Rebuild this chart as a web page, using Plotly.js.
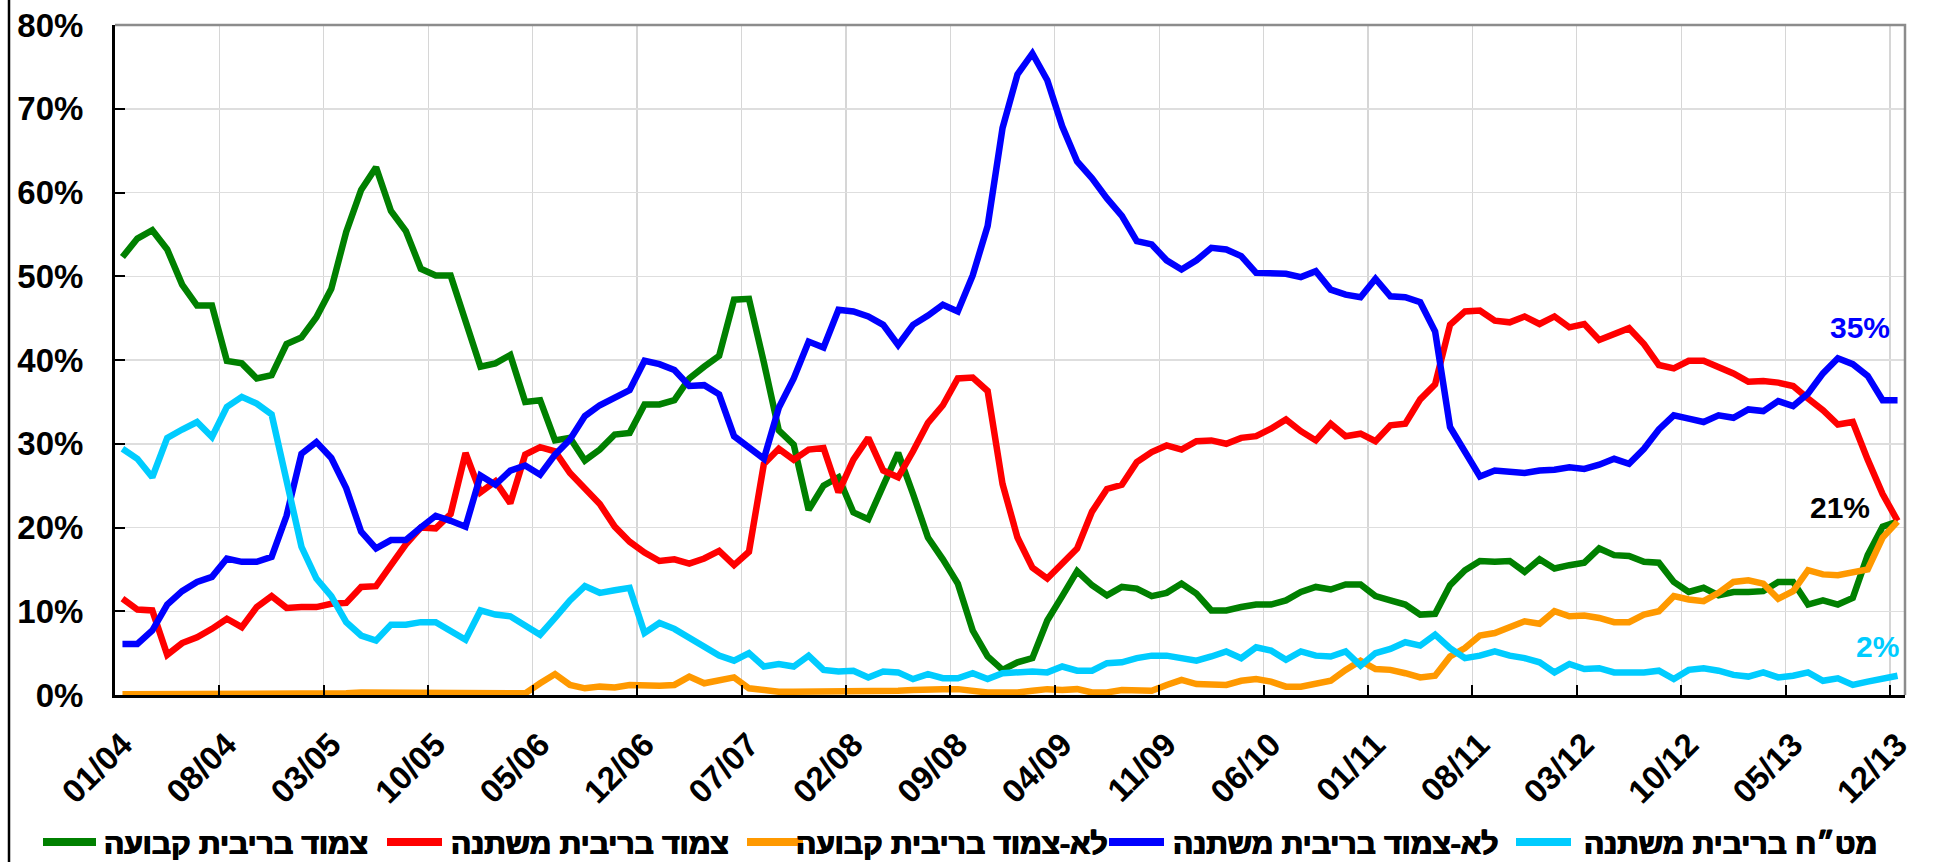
<!DOCTYPE html>
<html>
<head>
<meta charset="utf-8">
<script src="https://cdn.plot.ly/plotly-3.0.1.min.js"></script>
<style>
  html, body { margin: 0; padding: 0; background: #ffffff; }
  #chart { width: 1937px; height: 862px; }
</style>
</head>
<body>
<div id="chart"></div>
<script>
// ---- categories (month/year) ----
const months = [
  "01/04","02/04","03/04","04/04","05/04","06/04","07/04","08/04","09/04","10/04","11/04","12/04",
  "01/05","02/05","03/05","04/05","05/05","06/05","07/05","08/05","09/05","10/05","11/05","12/05",
  "01/06","02/06","03/06","04/06","05/06","06/06","07/06","08/06","09/06","10/06","11/06","12/06",
  "01/07","02/07","03/07","04/07","05/07","06/07","07/07","08/07","09/07","10/07","11/07","12/07",
  "01/08","02/08","03/08","04/08","05/08","06/08","07/08","08/08","09/08","10/08","11/08","12/08",
  "01/09","02/09","03/09","04/09","05/09","06/09","07/09","08/09","09/09","10/09","11/09","12/09",
  "01/10","02/10","03/10","04/10","05/10","06/10","07/10","08/10","09/10","10/10","11/10","12/10",
  "01/11","02/11","03/11","04/11","05/11","06/11","07/11","08/11","09/11","10/11","11/11","12/11",
  "01/12","02/12","03/12","04/12","05/12","06/12","07/12","08/12","09/12","10/12","11/12","12/12",
  "01/13","02/13","03/13","04/13","05/13","06/13","07/13","08/13","09/13","10/13","11/13","12/13"
];

// ---- series names ----
const nameGreen  = "צמוד בריבית קבועה";
const nameRed    = "צמוד בריבית משתנה";
const nameOrange = "לא-צמוד בריבית קבועה";
const nameBlue   = "לא-צמוד בריבית משתנה";
const nameCyan   = "מט״ח בריבית משתנה";

// ---- series values (%) ----
const indexedFixed = [
  52.3,54.5,55.5,53.2,49.0,46.5,46.5,39.9,39.6,37.8,38.2,41.9,
  42.7,45.1,48.5,55.3,60.3,63.0,57.8,55.4,50.9,50.1,50.1,44.4,
  39.2,39.6,40.6,35.0,35.2,30.4,30.7,28.0,29.3,31.1,31.3,34.7,
  34.7,35.2,37.8,39.2,40.5,47.2,47.3,39.7,31.6,29.9,22.1,25.0,
  26.0,21.8,21.0,25.0,28.9,24.0,18.8,16.2,13.3,7.7,4.6,3.0,
  3.9,4.4,8.9,11.8,14.8,13.1,11.9,12.9,12.7,11.8,12.2,13.3,
  12.1,10.1,10.1,10.5,10.8,10.8,11.3,12.3,12.9,12.6,13.2,13.2,
  11.8,11.3,10.8,9.6,9.7,13.1,14.9,16.0,15.9,16.0,14.7,16.2,
  15.1,15.5,15.8,17.5,16.7,16.6,15.9,15.8,13.5,12.3,12.8,11.9,
  12.3,12.3,12.4,13.5,13.5,10.8,11.3,10.8,11.6,16.7,20.1,20.7
];
const indexedVariable = [
  11.5,10.2,10.1,4.8,6.2,6.9,7.9,9.1,8.1,10.5,11.8,10.4,
  10.5,10.5,10.9,11.0,12.9,13.0,15.5,18.0,20.0,19.9,21.6,28.9,
  24.2,25.5,22.9,28.7,29.6,29.1,26.5,24.7,22.8,20.1,18.3,17.0,
  16.0,16.2,15.7,16.3,17.2,15.5,17.1,27.6,29.4,28.1,29.3,29.5,
  24.2,28.1,30.7,26.8,26.0,29.1,32.5,34.6,37.8,37.9,36.3,25.2,
  18.8,15.2,13.9,15.7,17.5,21.9,24.6,25.1,27.8,29.0,29.8,29.3,
  30.3,30.4,30.0,30.7,30.9,31.8,32.9,31.5,30.4,32.4,30.9,31.2,
  30.3,32.2,32.4,35.3,37.1,44.2,45.8,45.9,44.7,44.5,45.2,44.3,
  45.2,43.9,44.3,42.4,43.2,43.8,41.9,39.4,39.0,39.9,39.9,39.2,
  38.4,37.4,37.5,37.3,36.9,35.4,34.0,32.3,32.6,28.1,24.0,20.8
];
const unindexedFixed = [
  0.1,0.1,0.1,0.1,0.1,0.1,0.1,0.1,0.1,0.1,0.1,0.1,
  0.1,0.2,0.2,0.2,0.3,0.3,0.2,0.2,0.2,0.2,0.3,0.2,
  0.3,0.3,0.2,0.2,1.4,2.5,1.2,0.8,1.0,0.9,1.2,1.1,
  1.1,1.2,2.2,1.4,1.7,2.1,0.8,0.6,0.4,0.4,0.4,0.4,
  0.5,0.4,0.4,0.4,0.5,0.6,0.7,0.7,0.7,0.5,0.3,0.3,
  0.3,0.5,0.7,0.6,0.7,0.3,0.3,0.6,0.5,0.5,1.2,1.8,
  1.3,1.3,1.2,1.7,1.9,1.6,1.0,1.0,1.3,1.7,3.0,4.1,
  3.1,3.0,2.6,2.1,2.3,4.6,5.6,7.1,7.4,8.2,8.8,8.5,
  10.0,9.4,9.5,9.2,8.7,8.7,9.6,10.0,11.8,11.4,11.2,12.2,
  13.5,13.7,13.3,11.5,12.4,14.9,14.4,14.3,14.6,15.0,18.8,20.7
];
const unindexedVariable = [
  6.1,6.1,7.7,10.8,12.4,13.5,14.1,16.3,15.9,15.9,16.5,21.4,
  28.8,30.2,28.3,24.7,19.5,17.5,18.5,18.5,20.0,21.4,20.8,20.1,
  26.2,25.1,26.8,27.4,26.3,28.7,30.5,33.3,34.6,35.4,36.4,39.9,
  39.5,38.8,36.9,37.0,35.9,30.9,29.6,28.2,34.3,37.8,42.2,41.5,
  46.0,45.8,45.2,44.2,41.8,44.2,45.3,46.6,45.8,50.1,56.0,67.7,
  74.1,76.6,73.4,67.9,63.7,61.7,59.3,57.2,54.2,53.8,51.9,50.8,
  51.9,53.4,53.2,52.4,50.4,50.3,50.3,49.9,50.6,48.4,47.8,47.5,
  49.7,47.6,47.5,46.9,43.4,32.0,29.2,26.1,26.8,26.6,26.5,26.8,
  26.9,27.2,27.0,27.5,28.2,27.6,29.4,31.7,33.4,33.0,32.6,33.4,
  33.1,34.1,33.9,35.1,34.5,36.0,38.4,40.2,39.5,38.1,35.2,35.2
];
const foreignVariable = [
  29.4,28.2,26.0,30.7,31.7,32.6,30.8,34.4,35.6,34.8,33.5,25.7,
  17.7,13.9,11.8,8.7,7.1,6.5,8.4,8.4,8.7,8.7,7.7,6.6,
  10.1,9.6,9.4,8.4,7.2,9.2,11.3,13.0,12.2,12.5,12.8,7.4,
  8.6,7.9,6.9,5.7,4.7,4.1,5.0,3.4,3.7,3.4,4.7,3.0,
  2.8,2.9,2.1,2.8,2.7,1.9,2.5,2.0,2.0,2.6,1.9,2.6,
  2.7,2.8,2.7,3.4,2.9,2.9,3.8,3.9,4.4,4.7,4.7,4.4,
  4.1,4.6,5.2,4.4,5.7,5.3,4.2,5.2,4.7,4.6,5.2,3.5,
  5.0,5.5,6.3,5.9,7.2,5.6,4.4,4.7,5.2,4.7,4.4,3.9,
  2.7,3.7,3.1,3.2,2.7,2.7,2.7,2.9,1.9,3.0,3.2,2.9,
  2.4,2.2,2.7,2.1,2.3,2.7,1.7,2.0,1.2,1.6,1.9,2.3
];

// ---- end labels ----
const endLabels = ["35%", "21%", "2%"];
const endLabelColors = ["#0000ff", "#000000", "#00ccff"];

const FONT = "Liberation Sans, Arial, sans-serif";
const LW = 6.5;

// ---- plot geometry (pixels) ----
const W = 1937, H = 862;
const M = { l: 115, r: 32, t: 25, b: 167 };
const PW = W - M.l - M.r, PH = H - M.t - M.b;
const px2x = (px) => (px - M.l) / PW;
const px2y = (py) => (H - M.b - py) / PH;

const series = [
  { name: nameGreen,  y: indexedFixed,      color: "#008000" },
  { name: nameRed,    y: indexedVariable,   color: "#ff0000" },
  { name: nameOrange, y: unindexedFixed,    color: "#ff9900" },
  { name: nameBlue,   y: unindexedVariable, color: "#0000ff" },
  { name: nameCyan,   y: foreignVariable,   color: "#00ccff" }
];

const data = series.map(s => ({
  type: "scatter", mode: "lines", name: s.name,
  x: months, y: s.y,
  line: { color: s.color, width: LW, shape: "linear" },
  hoverinfo: "skip", showlegend: false
}));

// ---- legend drawn as shapes + text (pixel layout of the bottom row) ----
const legendSym = [[43, 96], [387, 442], [747, 803], [1109, 1164], [1516, 1571]];
const legendTxtCenter = [236, 590, 952, 1335, 1730];
const legendY = 843;

const shapes = [
  { type: "path", xref: "paper", yref: "paper",
    path: "M 0,1 L 1,1 L 1,0",
    line: { color: "#8c8c8c", width: 2.5 }, layer: "above" },
  { type: "line", xref: "paper", yref: "paper",
    x0: px2x(9), x1: px2x(9), y0: px2y(H + 5), y1: px2y(-5),
    line: { color: "#000000", width: 2.5 }, layer: "above" }
];
const annotations = [];

series.forEach((s, i) => {
  shapes.push({
    type: "line", xref: "paper", yref: "paper",
    x0: px2x(legendSym[i][0]), x1: px2x(legendSym[i][1]),
    y0: px2y(legendY - 1), y1: px2y(legendY - 1),
    line: { color: s.color, width: 8 }, layer: "above"
  });
  annotations.push({
    xref: "paper", yref: "paper",
    x: px2x(legendTxtCenter[i]), y: px2y(legendY),
    xanchor: "center", yanchor: "middle", showarrow: false,
    text: s.name,
    font: { family: FONT, size: 30, weight: "bold", color: "#000000",
            shadow: "0.7px 0 0 #000000, -0.7px 0 0 #000000" }
  });
});

const endPos = [[1860, 328], [1840, 507], [1877, 646]];
endLabels.forEach((t, i) => {
  annotations.push({
    xref: "paper", yref: "paper",
    x: px2x(endPos[i][0]), y: px2y(endPos[i][1]),
    text: t, showarrow: false, xanchor: "center", yanchor: "middle",
    font: { family: FONT, size: 30, weight: "bold", color: endLabelColors[i] }
  });
});

const layout = {
  width: W, height: H,
  margin: { l: M.l, r: M.r, t: M.t, b: M.b, pad: 0 },
  paper_bgcolor: "#ffffff", plot_bgcolor: "#ffffff",
  font: { family: FONT, color: "#000000" },
  showlegend: false,
  xaxis: {
    type: "category",
    categoryorder: "array", categoryarray: months,
    range: [-0.5, 119.5],
    tickmode: "linear", tick0: 0, dtick: 7,
    tickson: "boundaries",
    ticks: "inside", ticklen: 10, tickwidth: 2, tickcolor: "#000000",
    tickangle: -45,
    tickfont: { family: FONT, size: 33, weight: "bold", color: "#000000" },
    ticklabelstandoff: 14,
    showgrid: true, gridcolor: "#d6d6d6", gridwidth: 1.3,
    showline: true, linecolor: "#000000", linewidth: 3,
    zeroline: false, automargin: false, fixedrange: true
  },
  yaxis: {
    range: [0, 80],
    tickmode: "linear", tick0: 0, dtick: 10,
    ticksuffix: "%",
    ticks: "inside", ticklen: 10, tickwidth: 2, tickcolor: "#000000",
    tickfont: { family: FONT, size: 33, weight: "bold", color: "#000000" },
    ticklabelstandoff: 22,
    showgrid: true, gridcolor: "#dedede", gridwidth: 1.5,
    showline: true, linecolor: "#000000", linewidth: 3,
    zeroline: false, automargin: false, fixedrange: true
  },
  shapes: shapes,
  annotations: annotations
};

Plotly.newPlot("chart", data, layout, { staticPlot: true, displayModeBar: false });
</script>
</body>
</html>
